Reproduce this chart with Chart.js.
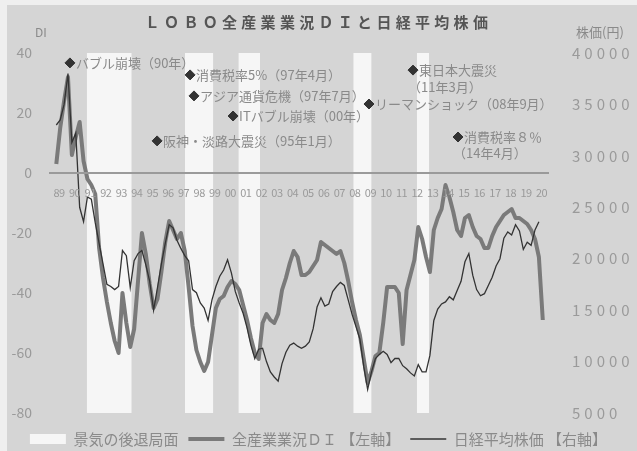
<!DOCTYPE html>
<html>
<head>
<meta charset="utf-8">
<script src="https://cdn.jsdelivr.net/npm/chart.js@4"></script>
<style>
  html, body { margin: 0; padding: 0; background: #efefef; }
</style>
</head>
<body>
<canvas id="chart" width="637" height="451"></canvas>
<script>
// quarterly readings, first point is Q1 1989
const firstQuarter = 1989.125;
const quarterStep = 0.25;

const diValues = [
    3, 15, 24, 32, 6, 12, 17, 4,
    -2, -4, -7, -25, -35, -43, -50, -56,
    -60, -40, -50, -58, -52, -36, -20, -27,
    -37, -45, -42, -33, -23, -16, -19, -22,
    -20, -26, -38, -51, -59, -63, -66, -63,
    -54, -45, -42, -41, -38, -36, -37, -39,
    -44, -49, -55, -60, -62, -50, -47, -49,
    -50, -47, -39, -35, -30, -26, -28, -34,
    -34, -33, -31, -29, -23, -24, -25, -26,
    -27, -26, -30, -36, -43, -49, -54, -62,
    -70, -66, -61, -60, -50, -38, -38, -38,
    -40, -57, -39, -34, -29, -18, -22, -28,
    -33, -19, -15, -12, -4, -8, -13, -19,
    -21, -15, -14, -18, -21, -22, -25, -25,
    -21, -18, -16, -14, -13, -12, -15, -15,
    -16, -17, -19, -22, -28, -49,
];

const nikkeiValues = [
    33000, 33500, 35000, 38000, 31300, 32200, 25000, 23600,
    26000, 25800, 23500, 21500, 19500, 17500, 17300, 17000,
    17300, 20800, 20300, 17200, 19800, 20500, 20800, 19400,
    17800, 15000, 17200, 19500, 21500, 23300, 23000, 21800,
    21000, 20300, 19800, 17000, 16700, 15700, 15200, 14000,
    16000, 17300, 18300, 18900, 19900, 18600, 16800, 15700,
    14700, 13300, 11600, 10300, 11200, 11300, 10000, 9000,
    8500, 8100, 9800, 10900, 11600, 11800, 11500, 11300,
    11500, 11900, 13200, 15300, 16200, 15400, 15600, 16800,
    17300, 17700, 17400, 16000, 14600, 13400, 12200, 9500,
    7300, 9000, 10300, 10700, 11000, 10700, 9900, 10300,
    10300, 9600, 9300, 8900, 8600, 9700, 9000, 9000,
    10600, 14000, 15100, 15600, 15800, 16300, 16000, 16900,
    17800, 19700, 20500, 18400, 17000, 16400, 16600, 17400,
    18200, 19300, 20000, 22000, 22600, 22300, 23300, 22700,
    20900, 21600, 21300, 22800, 23600,
];

const firstYear = 1989;
const yearLabels = [
    '89', '90', '91', '92', '93', '94', '95', '96', '97', '98', '99',
    '00', '01', '02', '03', '04', '05', '06', '07', '08', '09', '10',
    '11', '12', '13', '14', '15', '16', '17', '18', '19', '20',
];

// recession periods (景気の後退局面)
const recessionStart = [1991.08, 1997.39, 2000.82, 2008.2, 2012.28];
const recessionEnd = [1993.97, 1999.21, 2002.21, 2009.38, 2013.08];

// event markers: where each ◆ sits on the chart (year, left-axis level)
const eventNames = [
    'バブル崩壊（90年）',
    '阪神・淡路大震災（95年1月）',
    '消費税率5%（97年4月）',
    'アジア通貨危機（97年7月）',
    'ITバブル崩壊（00年）',
    'リーマンショック（08年9月）',
    '東日本大震災',
    '消費税率８％',
];
const eventSubLines = ['', '', '', '', '', '', '（11年3月）', '（14年4月）'];
const eventAnchorYears = [1990.0, 1995.6, 1997.72, 1997.97, 2000.48, 2009.21, 2012.04, 2014.93];
const eventAnchorLevels = [36.7, 10.7, 32.7, 25.7, 19, 23, 34.3, 12];

const diMin = -80;
const diMax = 40;

const labelOffset = 0.3;
const font = '"Noto Sans CJK JP", "Noto Sans", sans-serif';
const textGray = '#8a8a8a';

const diPoints = diValues.map((v, i) => ({ x: firstQuarter + i * quarterStep, y: v }));
const nikkeiPoints = nikkeiValues.map((v, i) => ({ x: firstQuarter + i * quarterStep, y: v }));

const recessionPoints = [];
recessionStart.forEach((s, k) => {
    recessionPoints.push(
        { x: s, y: diMax },
        { x: recessionEnd[k], y: diMax },
        { x: recessionEnd[k], y: null }
    );
});

const eventPoints = eventAnchorYears.map((t, k) => ({ x: t, y: eventAnchorLevels[k] }));

const legendItems = [
    { fillStyle: '#f6f6f6', strokeStyle: '#f6f6f6', lineWidth: 0, pointStyle: 'rect' },
    { fillStyle: '#7a7a7a', strokeStyle: '#7a7a7a', lineWidth: 4, pointStyle: 'line' },
    { fillStyle: '#333333', strokeStyle: '#333333', lineWidth: 1.3, pointStyle: 'line' },
];

// canvas letterSpacing for a few text blocks
function spaceText(obj, method, spacing) {
    if (!obj || obj['_spaced_' + method]) return;
    const original = obj[method];
    obj[method] = function (...args) {
        const ctx = this.ctx;
        ctx.save();
        ctx.letterSpacing = spacing;
        original.apply(this, args);
        ctx.restore();
    };
    obj['_spaced_' + method] = true;
}

const chartNotes = {
    id: 'chartNotes',
    beforeDraw(chart) {
        const ctx = chart.ctx;
        ctx.save();
        ctx.fillStyle = '#d5d5d5';
        ctx.fillRect(7, 5, chart.width, chart.height);
        ctx.restore();
        spaceText(chart.titleBlock, 'draw', '4.3px');
        spaceText(chart.scales.y2, 'drawLabels', '4px');
        spaceText(chart.scales.xl, 'drawLabels', '-0.5px');
    },
    afterDatasetsDraw(chart) {
        const ctx = chart.ctx;
        const area = chart.chartArea;
        ctx.save();
        ctx.fillStyle = textGray;
        ctx.textBaseline = 'middle';
        ctx.textAlign = 'left';
        ctx.font = '13px ' + font;
        chart.getDatasetMeta(3).data.forEach((pt, k) => {
            ctx.fillText(eventNames[k], pt.x + 6, pt.y);
            if (eventSubLines[k]) {
                ctx.fillText(eventSubLines[k], pt.x - 5, pt.y + 16.5);
            }
        });
        ctx.textAlign = 'center';
        ctx.font = '12px ' + font;
        ctx.fillText('DI', area.left - 9, area.top - 21);
        ctx.font = '13px ' + font;
        ctx.fillText('株価(円)', area.right + 52, area.top - 21);
        ctx.restore();
    },
};

new Chart(document.getElementById('chart'), {
    type: 'line',
    data: {
        datasets: [
            {
                label: '景気の後退局面',
                data: recessionPoints,
                xAxisID: 'x',
                yAxisID: 'y',
                fill: 'start',
                backgroundColor: 'rgba(255,255,255,0.78)',
                borderWidth: 0,
                pointRadius: 0,
                spanGaps: false,
                order: 3,
            },
            {
                label: '全産業業況ＤＩ 【左軸】',
                data: diPoints,
                xAxisID: 'x',
                yAxisID: 'y',
                borderColor: '#7a7a7a',
                borderWidth: 4,
                borderJoinStyle: 'round',
                pointRadius: 0,
                order: 2,
            },
            {
                label: '日経平均株価 【右軸】',
                data: nikkeiPoints,
                xAxisID: 'x',
                yAxisID: 'y2',
                borderColor: '#333333',
                borderWidth: 1.3,
                pointRadius: 0,
                order: 1,
            },
            {
                label: 'events',
                data: eventPoints,
                xAxisID: 'x',
                yAxisID: 'y',
                showLine: false,
                pointStyle: 'rectRot',
                pointRadius: 5,
                backgroundColor: '#333333',
                borderColor: '#333333',
                order: 0,
            },
        ],
    },
    options: {
        responsive: false,
        animation: false,
        devicePixelRatio: 1,
        layout: { padding: { top: 0, left: 0, right: 0, bottom: -5.5 } },
        scales: {
            x: {
                type: 'linear',
                min: 1988.72,
                max: 2020.71,
                position: 'bottom',
                ticks: { display: false },
                grid: { display: false },
                border: { display: false },
                afterFit: (scale) => { scale.height = 8.5; },
            },
            xl: {
                type: 'linear',
                min: 1988.72,
                max: 2020.71,
                position: { y: 0 },
                grid: { display: false },
                border: { color: '#9a9a9a', width: 2, z: 1 },
                afterBuildTicks: (scale) => {
                    scale.ticks = yearLabels.map((_, k) => ({ value: firstYear + k + labelOffset }));
                },
                ticks: {
                    z: 1,
                    padding: 5,
                    color: '#9a9a9a',
                    font: { size: 11, family: font },
                    autoSkip: false,
                    maxRotation: 0,
                    callback: (value, index) => yearLabels[index],
                },
            },
            y: {
                position: 'left',
                min: diMin,
                max: diMax,
                grid: { display: false },
                border: { display: false },
                ticks: {
                    stepSize: 20,
                    padding: 10,
                    color: '#9a9a9a',
                    font: { size: 14, family: font },
                },
                afterFit: (scale) => { scale.width = 50; },
            },
            y2: {
                position: 'right',
                min: 5000,
                max: 40000,
                grid: { display: false },
                border: { display: false },
                ticks: {
                    stepSize: 5000,
                    padding: 16,
                    color: '#9a9a9a',
                    font: { size: 15, family: font },
                    callback: (value) => String(value),
                },
                afterFit: (scale) => { scale.width = 89; },
            },
        },
        plugins: {
            title: {
                display: true,
                text: 'ＬＯＢＯ全産業業況ＤＩと日経平均株価',
                color: '#555555',
                font: { size: 15, weight: 'bold', family: font },
                padding: { top: 13, bottom: 22 },
            },
            legend: {
                position: 'bottom',
                labels: {
                    usePointStyle: true,
                    pointStyleWidth: 36,
                    boxHeight: 10,
                    padding: 10,
                    color: textGray,
                    font: { size: 15, family: font },
                    generateLabels: (chart) => legendItems.map((item, i) => ({
                        text: chart.data.datasets[i].label,
                        fillStyle: item.fillStyle,
                        strokeStyle: item.strokeStyle,
                        lineWidth: item.lineWidth,
                        pointStyle: item.pointStyle,
                        fontColor: textGray,
                        hidden: false,
                        datasetIndex: i,
                    })),
                },
            },
            tooltip: { enabled: false },
        },
    },
    plugins: [chartNotes],
});
</script>
</body>
</html>
